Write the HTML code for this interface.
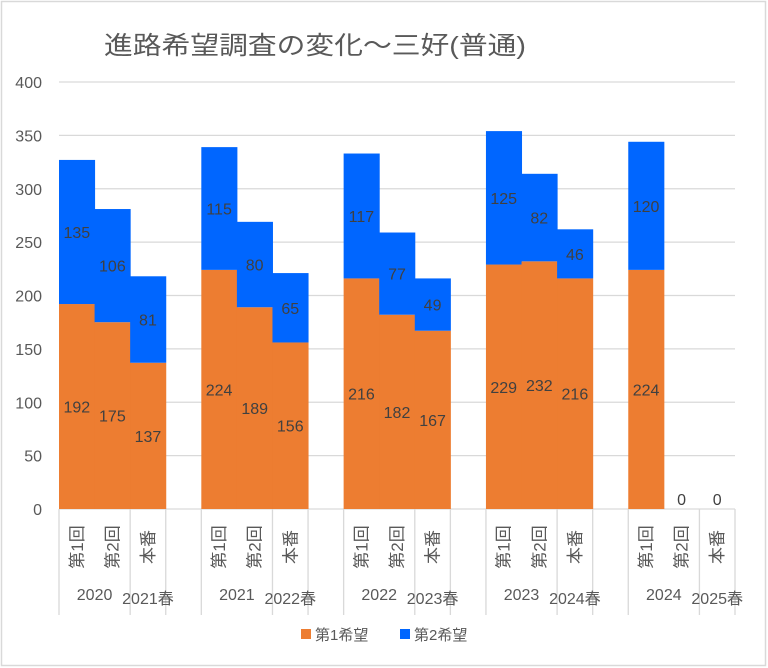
<!DOCTYPE html>
<html><head><meta charset="utf-8"><style>
html,body{margin:0;padding:0;background:#fff;}
svg{display:block;font-family:"Liberation Sans","Noto Sans CJK JP",sans-serif;}
</style></head><body>
<svg id="chart" width="768" height="668" viewBox="0 0 768 668">
<rect x="1.5" y="1.5" width="764" height="664" fill="#fff" stroke="#d9d9d9" stroke-width="1.5"/>
<text x="104" y="54" font-size="25" fill="#595959" textLength="422" lengthAdjust="spacingAndGlyphs">進路希望調査の変化～三好(普通)</text>
<g id="grid"></g><g id="bars"></g><g id="labels"></g><g id="axis"></g>
<g>
<rect x="301" y="629" width="10" height="10" fill="#ED7D31"/>
<text x="315" y="640" font-size="15" fill="#595959">第1希望</text>
<rect x="400" y="629" width="10" height="10" fill="#0066FF"/>
<text x="414" y="640" font-size="15" fill="#595959">第2希望</text>
</g>
</svg>
<script>
const innerLabels = ["第1回","第2回","本番","", "第1回","第2回","本番","", "第1回","第2回","本番","", "第1回","第2回","本番","", "第1回","第2回","本番"];
const first  = [192,175,137,null, 224,189,156,null, 216,182,167,null, 229,232,216,null, 224,0,0];
const second = [135,106,81,null, 115,80,65,null, 117,77,49,null, 125,82,46,null, 120,0,0];
const outerLabels = [["2020",0,2],["2021春",2,3],["",3,4],["2021",4,6],["2022春",6,7],["",7,8],["2022",8,10],["2023春",10,11],["",11,12],["2023",12,14],["2024春",14,15],["",15,16],["2024",16,18],["2025春",18,19]];
const yTicks = [0,50,100,150,200,250,300,350,400];

const NS="http://www.w3.org/2000/svg";
const X0=59,X1=735,Y0=509,Y1=82,N=19,slot=(X1-X0)/N;
const y=v=>Y0-(v/400)*(Y0-Y1);
const x=i=>X0+i*slot;
function mk(tag,attrs,parent){const e=document.createElementNS(NS,tag);for(const k in attrs)e.setAttribute(k,attrs[k]);parent.appendChild(e);return e;}
const grid=document.getElementById('grid'),bars=document.getElementById('bars'),labels=document.getElementById('labels'),axis=document.getElementById('axis');
yTicks.forEach(t=>{
  const l=mk('line',{x1:X0,x2:X1,y1:y(t),y2:y(t),stroke:'#d9d9d9','stroke-width':1.3},grid);
  
  
  const tx=mk('text',{x:42,y:y(t)+6,'text-anchor':'end','font-size':16,fill:'#595959'},grid);
  tx.textContent=t;
  
  
});
first.forEach((v,i)=>{
  if(v===null)return;
  const s=second[i];
  const r1=mk('rect',{x:x(i),y:y(v),width:slot+0.5,height:Y0-y(v),fill:'#ED7D31'},bars);
  
  
  const r2=mk('rect',{x:x(i),y:y(v+s),width:slot+0.5,height:y(v)-y(v+s),fill:'#0066FF'},bars);
  
  
  const cx=x(i)+slot/2;
  if(v>0){
    const t1=mk('text',{x:cx,y:(y(v)+Y0)/2+6,'text-anchor':'middle','font-size':16,fill:'#404040'},labels);
    t1.textContent=v;
    
    
  }
  const t2=mk('text',{x:cx,y:s>0?(y(v+s)+y(v))/2+6:Y0-4,'text-anchor':'middle','font-size':16,fill:'#404040'},labels);
  t2.textContent=s;
  
  
});
const bounds=new Set();outerLabels.forEach(o=>{bounds.add(o[1]);bounds.add(o[2]);});
bounds.forEach(b=>{
  const l=mk('line',{x1:x(b),x2:x(b),y1:Y0,y2:615,stroke:'#d9d9d9','stroke-width':1.3},axis);
  
  
});
innerLabels.forEach((t,i)=>{
  if(!t)return;
  const cx=x(i)+slot/2+6,cy=547;
  const e=mk('text',{x:cx,y:cy,'text-anchor':'middle','font-size':17,fill:'#595959',transform:`rotate(-90 ${cx} ${cy})`},axis);
  e.textContent=t;
  
  
});
outerLabels.forEach((o,k)=>{
  if(!o[0])return;
  const cx=(x(o[1])+x(o[2]))/2;
  const e=mk('text',{x:cx,y:o[2]-o[1]>1?600:604,'text-anchor':'middle','font-size':16,fill:'#595959'},axis);
  e.textContent=o[0];
  
  
});
</script>
</body></html>
